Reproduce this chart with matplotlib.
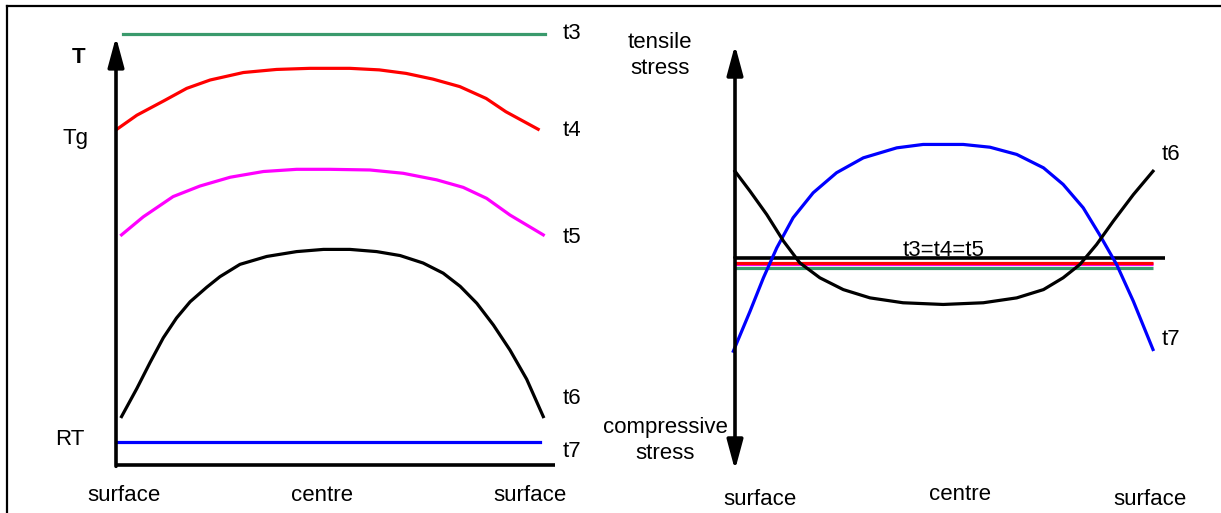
import matplotlib.pyplot as plt
from matplotlib.lines import Line2D

plt.rcParams['font.family'] = ['Liberation Sans', 'DejaVu Sans']

# ---- left panel: temperature profile across the thickness ----
# x = position through the thickness (0 = surface, 0.5 = centre, 1 = surface)
t4_x = [0.002, 0.049, 0.113, 0.166, 0.221, 0.299, 0.377, 0.455, 0.549, 0.618, 0.681, 0.744, 0.807, 0.869, 0.915, 0.991]
t4_T = [76.3, 79.5, 82.8, 85.6, 87.5, 89.2, 89.9, 90.15, 90.15, 89.8, 89.0, 87.7, 86.0, 83.3, 80.3, 76.3]

t5_x = [0.013, 0.064, 0.134, 0.197, 0.268, 0.346, 0.424, 0.502, 0.596, 0.674, 0.753, 0.815, 0.870, 0.925, 1.003]
t5_T = [52.3, 56.4, 61.0, 63.4, 65.4, 66.7, 67.2, 67.2, 67.05, 66.3, 64.8, 63.1, 60.6, 56.8, 52.3]

t6_x = [0.013, 0.049, 0.080, 0.111, 0.142, 0.174, 0.213, 0.244, 0.291, 0.354, 0.424, 0.487,
        0.549, 0.612, 0.667, 0.721, 0.768, 0.808, 0.847, 0.886, 0.925, 0.964, 1.003]
t6_T = [11.0, 17.4, 23.3, 28.9, 33.4, 37.1, 40.4, 42.8, 45.6, 47.4, 48.5, 49.0,
        49.0, 48.5, 47.6, 45.9, 43.6, 40.6, 36.75, 31.8, 26.1, 19.5, 11.0]

t3_x = [0.016, 1.007]
t3_T = [98.0, 98.0]
t7_x = [0.0, 0.995]
t7_T = [5.2, 5.2]

T_levels = {'T': 92.7, 'Tg': 74.3, 'RT': 5.7}

# ---- right panel: stress profile ----
s7_x = [-0.004, 0.036, 0.068, 0.100, 0.139, 0.187, 0.243, 0.307, 0.387, 0.450, 0.546,
        0.610, 0.674, 0.738, 0.785, 0.833, 0.872, 0.913, 0.953, 1.0]
s7_y = [-44.1, -25.3, -9.55, 4.56, 18.7, 30.45, 39.9, 46.9, 51.6, 53.2, 53.2,
        51.9, 48.5, 42.2, 34.4, 23.4, 10.8, -3.3, -20.6, -43.3]

s6_x = [0.0, 0.036, 0.076, 0.116, 0.155, 0.203, 0.259, 0.323, 0.402, 0.498,
        0.594, 0.674, 0.738, 0.785, 0.825, 0.865, 0.905, 0.953, 1.0]
s6_y = [40.6, 31.2, 20.2, 7.7, -2.5, -9.55, -15.1, -19.0, -21.3, -22.1,
        -21.3, -19.0, -15.1, -9.55, -3.3, 6.1, 17.1, 29.6, 40.6]

# t3, t4, t5: zero stress, drawn slightly apart so all stay visible
s345_x = [0.0, 1.0]
s5_y = [-3.1, -3.1]
s4_y = [-2.8, -2.8]
s3_y = [-4.8, -4.8]

pos_labels = ['surface', 'centre', 'surface']

GREEN = '#3a9a6c'
LW = 2.3
FS = 16

fig = plt.figure(figsize=(12.21, 5.13), dpi=100)
W, H = 1221, 513

# frame lines (left and top)
fig.add_artist(Line2D([7.5 / W, 7.5 / W], [0, 1 - 6 / H], color='k', lw=1.6))
fig.add_artist(Line2D([7.5 / W, 1], [1 - 6 / H, 1 - 6 / H], color='k', lw=1.6))

# left axes: 116..555 px wide, 25..465 px tall
ax1 = fig.add_axes([116 / W, (H - 465) / H, 439 / W, 440 / H])
ax1.set_xlim(0, 439 / 426)
ax1.set_ylim(0, 100)
ax1.axis('off')

ax1.plot(t3_x, t3_T, color=GREEN, lw=LW, clip_on=False)
ax1.plot(t4_x, t4_T, color='#ff0000', lw=LW, clip_on=False)
ax1.plot(t5_x, t5_T, color='#ff00ff', lw=LW, clip_on=False)
ax1.plot(t6_x, t6_T, color='k', lw=LW, clip_on=False)
ax1.plot(t7_x, t7_T, color='#0000ff', lw=LW, clip_on=False)

ax1.plot([0, 439 / 426], [0, 0], color='k', lw=2.6, clip_on=False, solid_capstyle='butt')
ax1.annotate('', xy=(0, 97.3), xytext=(0, -0.3),
             arrowprops=dict(arrowstyle='-|>,head_length=1.0,head_width=0.27',
                             mutation_scale=18, lw=2.6, color='k',
                             shrinkA=0, shrinkB=0), annotation_clip=False)

ax1.text(-0.089, T_levels['T'], 'T', fontsize=FS, fontweight='bold', ha='center', va='center')
ax1.text(-0.096, T_levels['Tg'], 'Tg', fontsize=FS, ha='center', va='center')
ax1.text(-0.108, T_levels['RT'], 'RT', fontsize=FS, ha='center', va='center')

for lab, yv in zip(['t3', 't4', 't5', 't6', 't7'], [98.0, 76.1, 51.6, 15.2, 3.0]):
    ax1.text(1.049, yv, lab, fontsize=FS, ha='left', va='center')

for lab, xv in zip(pos_labels, [0.019, 0.484, 0.972]):
    ax1.text(xv, -7.0, lab, fontsize=FS, ha='center', va='center')

# right axes: 735..1165 px wide, 45..470 px tall
ax2 = fig.add_axes([735 / W, (H - 470) / H, 430 / W, 425 / H])
ax2.set_xlim(0, 430 / 418)
ax2.set_ylim(-100, 100)
ax2.axis('off')

ax2.plot([0, 430 / 418], [0, 0], color='k', lw=2.6, clip_on=False, solid_capstyle='butt')
ax2.plot(s345_x, s5_y, color='#ff00ff', lw=LW, clip_on=False, solid_capstyle='butt')
ax2.plot(s345_x, s4_y, color='#ff0000', lw=LW, clip_on=False, solid_capstyle='butt')
ax2.plot(s345_x, s3_y, color=GREEN, lw=LW, clip_on=False, solid_capstyle='butt')
ax2.plot(s7_x, s7_y, color='#0000ff', lw=LW, clip_on=False)
ax2.plot(s6_x, s6_y, color='k', lw=LW, clip_on=False)

for tip in (100, -100):
    ax2.annotate('', xy=(0, tip), xytext=(0, 0),
                 arrowprops=dict(arrowstyle='-|>,head_length=1.0,head_width=0.27',
                                 mutation_scale=18, lw=2.6, color='k',
                                 shrinkA=0, shrinkB=0), annotation_clip=False)

ax2.text(-0.179, 95.0, 'tensile\nstress', fontsize=FS, ha='center', va='center', linespacing=1.3)
ax2.text(-0.167, -86.0, 'compressive\nstress', fontsize=FS, ha='center', va='center', linespacing=1.3)
ax2.text(0.50, 0.6, 't3=t4=t5', fontsize=FS, ha='center', va='baseline')
ax2.text(1.02, 48.5, 't6', fontsize=FS, ha='left', va='center')
ax2.text(1.02, -38.6, 't7', fontsize=FS, ha='left', va='center')

for lab, xv, yv in zip(pos_labels, [0.06, 0.538, 0.993], [-113.9, -111.5, -113.9]):
    ax2.text(xv, yv, lab, fontsize=FS, ha='center', va='center')

fig.savefig('out.png', dpi=100)
